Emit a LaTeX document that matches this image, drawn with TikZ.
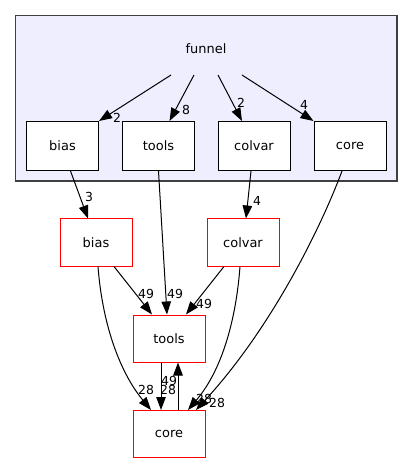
\documentclass[tikz,border=0pt]{standalone}
\usepackage{fontspec}
\setmainfont{DejaVu Sans}
\usetikzlibrary{arrows.meta}
\definecolor{clfill}{HTML}{EEEEFF}
\definecolor{clborder}{HTML}{404040}
\begin{document}
\begin{tikzpicture}[x=1bp,y=-1bp,
  inbox/.style={draw=black,fill=white,line width=1bp,minimum width=72bp,minimum height=49bp,inner sep=0pt,font=\fontsize{13}{15}\selectfont},
  outbox/.style={draw=red,fill=white,line width=1bp,minimum width=72bp,minimum height=47bp,inner sep=0pt,font=\fontsize{13}{15}\selectfont},
  dep/.style={draw=black,line width=1bp,-{Triangle[length=13bp,width=9.5bp]}},
  lbl/.style={font=\fontsize{12.5}{14}\selectfont,inner sep=0pt}]
\useasboundingbox (0,0) rectangle (413,464);
\fill[white] (0,0) rectangle (413,464);
\draw[clborder,fill=clfill,line width=1.3bp] (15.5,15.5) rectangle (397,181);
\node[font=\fontsize{13}{15}\selectfont] (funnel) at (206,49) {funnel};
\coordinate (s1) at (171,75);
\coordinate (s2) at (194,75);
\coordinate (s3) at (218,75);
\coordinate (s4) at (242,75);
\node[inbox] (ibias) at (62.5,146) {bias};
\node[inbox] (itools) at (158.5,146) {tools};
\node[inbox] (icolvar) at (254,146) {colvar};
\node[inbox] (icore) at (350,146) {core};
\node[outbox] (obias) at (96,242.5) {bias};
\node[outbox] (ocolvar) at (243,242.5) {colvar};
\node[outbox] (otools) at (169,338.5) {tools};
\node[outbox] (ocore) at (169,434) {core};
% funnel -> inner
\draw[dep] (s1) -- (ibias.north east);
\draw[dep] (s2) -- ([xshift=11bp]itools.north);
\draw[dep] (s3) -- ([xshift=-12bp]icolvar.north);
\draw[dep] (s4) -- (icore.north west);
\node[lbl] at (117,118) {2};
\node[lbl] at (186,110) {8};
\node[lbl] at (241,103) {2};
\node[lbl] at (304,105) {4};
% inner -> outer
\draw[dep] ([xshift=8bp]ibias.south) -- ([xshift=-8bp]obias.north);
\node[lbl] at (89,197) {3};
\draw[dep] (itools.south) -- ([xshift=-2bp]otools.north);
\node[lbl] at (175,294) {49};
\draw[dep] ([xshift=-3bp]icolvar.south) -- ([xshift=3bp]ocolvar.north);
\node[lbl] at (257,201) {4};
\draw[dep] ([xshift=-8bp]icore.south) .. controls (320,230) and (270,330) .. ([xshift=27bp]ocore.north);
\node[lbl] at (217,403) {28};
% outer edges
\draw[dep] ([xshift=18bp]obias.south) -- ([xshift=-17bp]otools.north);
\node[lbl] at (146,294) {49};
\draw[dep] ([xshift=2bp]obias.south) .. controls (102,320) and (118,370) .. ([xshift=-18bp]ocore.north);
\node[lbl] at (146,390) {28};
\draw[dep] ([xshift=-19bp]ocolvar.south) -- ([xshift=17bp]otools.north);
\node[lbl] at (204,304) {49};
\draw[dep] ([xshift=-3bp]ocolvar.south) .. controls (236,320) and (222,370) .. ([xshift=19bp]ocore.north);
\node[lbl] at (204,399) {28};
\draw[dep] ([xshift=-8bp]otools.south) -- ([xshift=-8bp]ocore.north);
\node[lbl] at (168,390) {28};
\draw[dep] ([xshift=9bp]ocore.north) -- ([xshift=9bp]otools.south);
\node[lbl] at (169,381) {49};
\end{tikzpicture}
\end{document}
